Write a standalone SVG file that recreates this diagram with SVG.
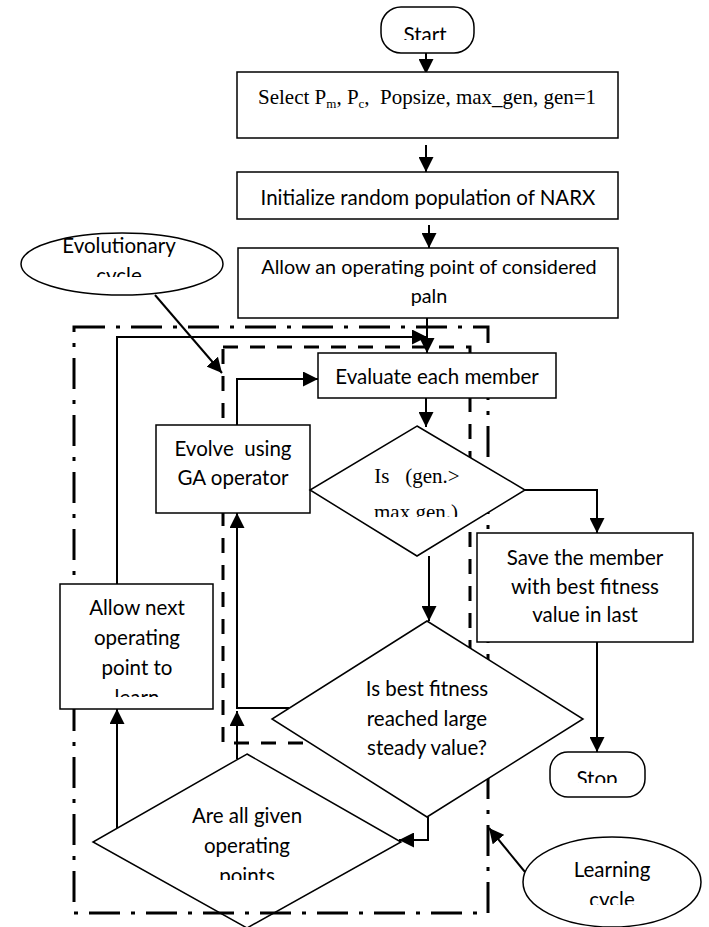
<svg xmlns="http://www.w3.org/2000/svg" width="709" height="927" viewBox="0 0 709 927">
<style>
.box{fill:#fff;stroke:#000;stroke-width:1.5}
.conn{fill:none;stroke:#000;stroke-width:2}
.t{font-family:Lato,"Liberation Sans",sans-serif;font-size:20.5px;text-anchor:middle;fill:#000}
.s{font-family:"Liberation Serif",serif;font-size:21px;fill:#000}
.dd{fill:none;stroke:#000;stroke-width:3;stroke-dasharray:31 11 4 11}
.dash{fill:none;stroke:#000;stroke-width:3;stroke-dasharray:15 12}
</style>
<defs>
<marker id="ah" markerUnits="userSpaceOnUse" markerWidth="15" markerHeight="15" viewBox="0 0 15 15" refX="15" refY="7.5" orient="auto"><path d="M0,0 L15,7.5 L0,15 z" fill="#000"/></marker>
<clipPath id="cStart" clipPathUnits="userSpaceOnUse"><rect x="381" y="7" width="94" height="33"/></clipPath>
<clipPath id="cEvo" clipPathUnits="userSpaceOnUse"><rect x="0" y="230" width="230" height="47"/></clipPath>
<clipPath id="cMax" clipPathUnits="userSpaceOnUse"><rect x="310" y="426" width="215" height="91"/></clipPath>
<clipPath id="cLearn" clipPathUnits="userSpaceOnUse"><rect x="60" y="584" width="153" height="113"/></clipPath>
<clipPath id="cPoints" clipPathUnits="userSpaceOnUse"><rect x="93" y="754" width="308" height="126"/></clipPath>
<clipPath id="cStop" clipPathUnits="userSpaceOnUse"><rect x="550" y="752" width="95" height="31"/></clipPath>
<clipPath id="cLc" clipPathUnits="userSpaceOnUse"><rect x="523" y="837" width="180" height="68"/></clipPath>
</defs>

<g id="node-allgiven">
<path class="box" d="M247,754 L401,842 L247,928 L93,842 Z"/>
<g clip-path="url(#cPoints)">
<text class="t" x="247" y="823">Are all given</text>
<text class="t" x="247" y="853">operating</text>
<text class="t" x="247" y="883">points</text>
</g>
</g>

<g id="regions">
<rect class="dd" x="74" y="327" width="414" height="586"/>
<rect class="dash" x="223" y="347" width="247" height="396"/>
</g>

<g id="connectors">
<path class="conn" d="M426,53 V74" marker-end="url(#ah)"/>
<path class="conn" d="M426,145 V172" marker-end="url(#ah)"/>
<path class="conn" d="M429,225 V248" marker-end="url(#ah)"/>
<path class="conn" d="M427,318 V353" marker-end="url(#ah)"/>
<path class="conn" d="M117,584 V337 H427" marker-end="url(#ah)"/>
<path class="conn" d="M237,425 V379 H318" marker-end="url(#ah)"/>
<path class="conn" d="M426,398 V427" marker-end="url(#ah)"/>
<path class="conn" d="M525,490 H597 V533" marker-end="url(#ah)"/>
<path class="conn" d="M429,556 V621" marker-end="url(#ah)"/>
<path class="conn" d="M597,642 V752" marker-end="url(#ah)"/>
<path class="conn" d="M289,708 H237 V513" marker-end="url(#ah)"/>
<path class="conn" d="M237,759 V711" marker-end="url(#ah)"/>
<path class="conn" d="M428,817 V840 H399" marker-end="url(#ah)"/>
<path class="conn" d="M117,828 V709" marker-end="url(#ah)"/>
<path class="conn" d="M155,295 L222,373" marker-end="url(#ah)"/>
<path class="conn" d="M525,872 L489,828" marker-end="url(#ah)"/>
</g>

<g id="node-start">
<rect class="box" x="381" y="7" width="93" height="46" rx="20"/>
<text class="t" x="425" y="42" clip-path="url(#cStart)">Start</text>
</g>

<g id="node-select">
<rect class="box" x="237" y="72" width="381" height="66"/>
<text class="s" x="258" y="104" xml:space="preserve">Select P<tspan style="font-size:13px" dy="4">m</tspan><tspan dy="-4">, P</tspan><tspan style="font-size:13px" dy="4">c</tspan><tspan dy="-4">,  Popsize, max_gen, gen=1</tspan></text>
</g>

<g id="node-init">
<rect class="box" x="237" y="172" width="381" height="47"/>
<text class="t" x="428" y="205">Initialize random population of NARX</text>
</g>

<g id="node-allow">
<rect class="box" x="238" y="248" width="380" height="70"/>
<text class="t" x="429" y="274" style="font-size:19.8px">Allow an operating point of considered</text>
<text class="t" x="429" y="303" style="font-size:19.8px">paln</text>
</g>

<g id="node-evolutionary">
<ellipse class="box" cx="122" cy="264" rx="101" ry="31"/>
<g clip-path="url(#cEvo)">
<text class="t" x="119" y="253">Evolutionary</text>
<text class="t" x="119" y="283">cycle</text>
</g>
</g>

<g id="node-evaluate">
<rect class="box" x="318" y="353" width="238" height="45"/>
<text class="t" x="437" y="384">Evaluate each member</text>
</g>

<g id="node-evolve">
<rect class="box" x="156" y="425" width="154" height="88"/>
<text class="t" x="233" y="456" xml:space="preserve">Evolve  using</text>
<text class="t" x="233" y="485">GA operator</text>
</g>

<g id="node-gen">
<path class="box" d="M417,426 L525,490 L417,556 L310,490 Z"/>
<g clip-path="url(#cMax)">
<text class="s" x="417" y="483" text-anchor="middle" xml:space="preserve">Is   (gen.&gt;</text>
<text class="s" x="416" y="519" text-anchor="middle">max gen.)</text>
</g>
</g>

<g id="node-save">
<rect class="box" x="477" y="533" width="216" height="109"/>
<text class="t" x="585" y="565">Save the member</text>
<text class="t" x="585" y="594">with best fitness</text>
<text class="t" x="585" y="622">value in last</text>
</g>

<g id="node-steady">
<path class="box" d="M427,621 L583,719 L427,817 L272,719 Z"/>
<text class="t" x="427" y="696">Is best fitness</text>
<text class="t" x="427" y="726">reached large</text>
<text class="t" x="427" y="755">steady value?</text>
</g>

<g id="node-next">
<rect class="box" x="60" y="584" width="153" height="125"/>
<g clip-path="url(#cLearn)">
<text class="t" x="137" y="615">Allow next</text>
<text class="t" x="137" y="645">operating</text>
<text class="t" x="137" y="675">point to</text>
<text class="t" x="137" y="705">learn</text>
</g>
</g>

<g id="node-stop">
<rect class="box" x="550" y="752" width="95" height="45" rx="18"/>
<text class="t" x="597" y="786" clip-path="url(#cStop)">Stop</text>
</g>

<g id="node-learning">
<ellipse class="box" cx="612" cy="882" rx="89" ry="45"/>
<g clip-path="url(#cLc)">
<text class="t" x="612" y="877">Learning</text>
<text class="t" x="612" y="907">cycle</text>
</g>
</g>
</svg>
